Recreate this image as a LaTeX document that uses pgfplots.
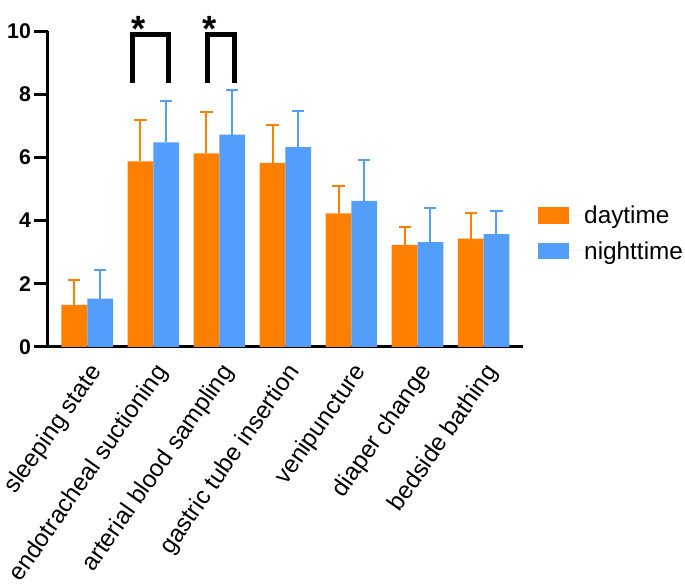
\documentclass[border=0pt]{standalone}
\usepackage{fontspec}
\setmainfont{Liberation Sans}
\usepackage{pgfplots}
\usepackage{pgfplotstable}
\pgfplotsset{compat=1.18}
\definecolor{dayc}{RGB}{255,128,0}
\definecolor{nightc}{RGB}{83,158,250}
\pgfplotstableread{
x d de n ne
0 1.33 0.78 1.53 0.91
1 5.88 1.32 6.48 1.31
2 6.13 1.31 6.73 1.42
3 5.83 1.21 6.33 1.16
4 4.23 0.86 4.63 1.29
5 3.23 0.58 3.32 1.09
6 3.43 0.80 3.57 0.75
}\data
\begin{document}
\begin{tikzpicture}
\begin{axis}[
  scale only axis, width=469pt, height=311pt,
  xmin=-0.6, xmax=6.6, ymin=0, ymax=10,
  axis lines*=left,
  axis line style={line width=3pt},
  clip=false,
  ybar, bar width=0.39,
  ytick={0,2,4,6,8,10},
  xtick={0,1,2,3,4,5,6},
  xticklabels={sleeping state,endotracheal suctioning,arterial blood sampling,gastric tube insertion,venipuncture,diaper change,bedside bathing},
  x tick label style={rotate=55, anchor=north east, font=\fontsize{24}{26}\selectfont, inner sep=1pt},
  xtick style={draw=none},
  ytick style={line width=3pt, black},
  major tick length=13pt,
  tick align=outside,
  /pgf/number format/assume math mode=true,
  y tick label style={font=\fontsize{21}{24}\selectfont\bfseries},
  legend image code/.code={\fill[#1] (0pt,-8pt) rectangle (31pt,8pt); \path (0pt,0pt) -- (44pt,0pt);},
  legend style={draw=none, fill=none, at={(1,0.36)}, anchor=west, xshift=14pt,
    font=\fontsize{24}{28}\selectfont, row sep=12pt, inner sep=0pt,
    nodes={inner sep=2pt}},
  legend cell align=left,
]
\addplot+[bar shift=-0.195, fill=dayc, draw=none,
  error bars/.cd, y dir=plus, y explicit, error mark=-,
  error bar style={line width=2pt, dayc},
  error mark options={rotate=90, line width=2pt, dayc, mark size=6pt}]
  table[x=x, y=d, y error=de] {\data};
\addplot+[bar shift=0.195, fill=nightc, draw=none,
  error bars/.cd, y dir=plus, y explicit, error mark=-,
  error bar style={line width=2pt, nightc},
  error mark options={rotate=90, line width=2pt, nightc, mark size=6pt}]
  table[x=x, y=n, y error=ne] {\data};
\legend{daytime,nighttime}
\draw[line width=5pt] (axis cs:0.68,8.38) -- (axis cs:0.68,9.89) -- (axis cs:1.225,9.89) -- (axis cs:1.225,8.38);
\draw[line width=5pt] (axis cs:1.82,8.38) -- (axis cs:1.82,9.89) -- (axis cs:2.235,9.89) -- (axis cs:2.235,8.38);
\node[anchor=base, font=\fontsize{36}{36}\selectfont\bfseries, inner sep=0pt] at (axis cs:0.785,9.68) {*};
\node[anchor=base, font=\fontsize{36}{36}\selectfont\bfseries, inner sep=0pt] at (axis cs:1.845,9.68) {*};
\path (rel axis cs:0,1) ++(0pt,31pt) coordinate (topext);
\path (topext) -- (topext);
\end{axis}
\end{tikzpicture}
\end{document}
